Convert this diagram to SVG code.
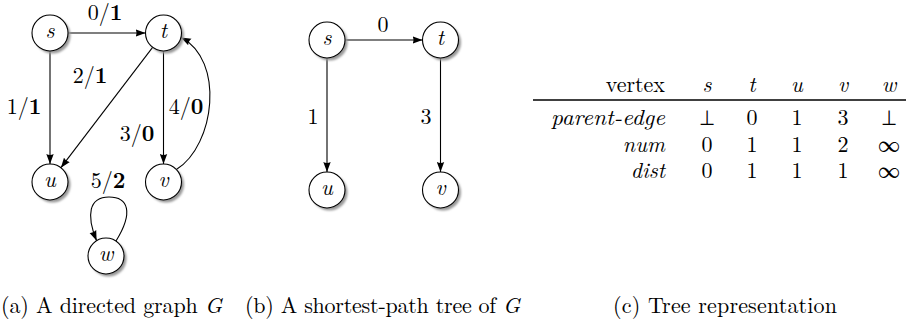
<svg xmlns="http://www.w3.org/2000/svg" width="906" height="324" viewBox="0 0 906 324">
<style>
text{font-family:"CMU Serif","Latin Modern Roman","Liberation Serif","LiberationSerif","Tinos","Times New Roman","Nimbus Roman","Noto Serif","FreeSerif","DejaVu Serif",Times,serif;font-size:22px;fill:#000}
.it{font-style:italic}
.b{font-weight:bold}
.c{text-anchor:middle}
.r{text-anchor:end}
.node .bg{fill:#fff;stroke:#000;stroke-width:1.1}
.node .sh{fill:#999;filter:url(#blur)}
.edge{fill:none;stroke:#000;stroke-width:1.1;marker-end:url(#arr)}
.rule{stroke:#000;stroke-width:1.6}
</style>
<defs>
<filter id="blur" x="-30%" y="-30%" width="160%" height="160%"><feGaussianBlur stdDeviation="1.2"/></filter>
<marker id="arr" viewBox="0 0 10 8" refX="10" refY="4" markerWidth="10" markerHeight="8" markerUnits="userSpaceOnUse" orient="auto"><path d="M0,0.3 L10,4 L0,7.7 Q2,4 0,0.3 z" fill="#000"/></marker>
</defs>
<rect width="906" height="324" fill="#fff"/>

<!-- (a) connectors -->
<g id="edges-a">
<path class="edge" d="M68,33 L145.5,33"/>
<path class="edge" d="M50,51 L50,164"/>
<path class="edge" d="M152.6,47.3 L60.9,167.7"/>
<path class="edge" d="M163.5,51 L163.5,164"/>
<path class="edge" d="M176.7,169.3 C215,145 225,60 181,37.4"/>
<path class="edge" d="M116,241 C134,212 128,197 109,197 C89,197 86,215 96.6,240.7"/>
<text class="c" x="105" y="20">0/<tspan class="b">1</tspan></text>
<text class="c" x="24" y="114">1/<tspan class="b">1</tspan></text>
<text class="c" x="90" y="83">2/<tspan class="b">1</tspan></text>
<text class="c" x="137" y="141">3/<tspan class="b">0</tspan></text>
<text class="c" x="186" y="114">4/<tspan class="b">0</tspan></text>
<text class="c" x="108" y="188">5/<tspan class="b">2</tspan></text>
</g>
<g id="a-s" class="node"><circle class="sh" cx="52.5" cy="35.5" r="18"/><circle class="bg" cx="50" cy="33" r="18"/><text class="it c" x="50" y="38">s</text></g>
<g id="a-t" class="node"><circle class="sh" cx="166" cy="35.5" r="18"/><circle class="bg" cx="163.5" cy="33" r="18"/><text class="it c" x="163.5" y="38">t</text></g>
<g id="a-u" class="node"><circle class="sh" cx="52.5" cy="184.5" r="18"/><circle class="bg" cx="50" cy="182" r="18"/><text class="it c" x="50" y="187">u</text></g>
<g id="a-v" class="node"><circle class="sh" cx="166" cy="184.5" r="18"/><circle class="bg" cx="163.5" cy="182" r="18"/><text class="it c" x="163.5" y="187">v</text></g>
<g id="a-w" class="node"><circle class="sh" cx="108.5" cy="258.5" r="18"/><circle class="bg" cx="106" cy="256" r="18"/><text class="it c" x="106" y="261">w</text></g>

<!-- (b) connectors -->
<g id="edges-b">
<path class="edge" d="M345,40 L422.5,40"/>
<path class="edge" d="M327,58 L327,172"/>
<path class="edge" d="M440.5,58 L440.5,172"/>
<text class="c" x="383" y="32">0</text>
<text class="c" x="313" y="124">1</text>
<text class="c" x="426" y="124">3</text>
</g>
<g id="b-s" class="node"><circle class="sh" cx="329.5" cy="42.5" r="18"/><circle class="bg" cx="327" cy="40" r="18"/><text class="it c" x="327" y="45">s</text></g>
<g id="b-t" class="node"><circle class="sh" cx="443" cy="42.5" r="18"/><circle class="bg" cx="440.5" cy="40" r="18"/><text class="it c" x="440.5" y="45">t</text></g>
<g id="b-u" class="node"><circle class="sh" cx="329.5" cy="192.5" r="18"/><circle class="bg" cx="327" cy="190" r="18"/><text class="it c" x="327" y="195">u</text></g>
<g id="b-v" class="node"><circle class="sh" cx="443" cy="192.5" r="18"/><circle class="bg" cx="440.5" cy="190" r="18"/><text class="it c" x="440.5" y="195">v</text></g>

<!-- (c) table -->
<g id="table">
<text class="r" x="665" y="92">vertex</text>
<text class="it c" x="707" y="92">s</text>
<text class="it c" x="752" y="92">t</text>
<text class="it c" x="797" y="92">u</text>
<text class="it c" x="843" y="92">v</text>
<text class="it c" x="889" y="92">w</text>
<line class="rule" x1="533" y1="100" x2="906" y2="100"/>
<text class="it r" x="665" y="125" textLength="114" lengthAdjust="spacingAndGlyphs">parent-edge</text>
<text class="c" x="707" y="125">⊥</text>
<text class="c" x="752" y="125">0</text>
<text class="c" x="797" y="125">1</text>
<text class="c" x="843" y="125">3</text>
<text class="c" x="889" y="125">⊥</text>
<text class="it r" x="665" y="152">num</text>
<text class="c" x="707" y="152">0</text>
<text class="c" x="752" y="152">1</text>
<text class="c" x="797" y="152">1</text>
<text class="c" x="843" y="152">2</text>
<text class="c" x="889" y="152">∞</text>
<text class="it r" x="665" y="178">dist</text>
<text class="c" x="707" y="178">0</text>
<text class="c" x="752" y="178">1</text>
<text class="c" x="797" y="178">1</text>
<text class="c" x="843" y="178">1</text>
<text class="c" x="889" y="178">∞</text>
</g>

<!-- captions -->
<text x="1" y="313" textLength="221" lengthAdjust="spacing">(a) A directed graph <tspan class="it">G</tspan></text>
<text x="245" y="313" textLength="275" lengthAdjust="spacing">(b) A shortest-path tree of <tspan class="it">G</tspan></text>
<text x="613" y="313" textLength="224" lengthAdjust="spacing">(c) Tree representation</text>
</svg>
